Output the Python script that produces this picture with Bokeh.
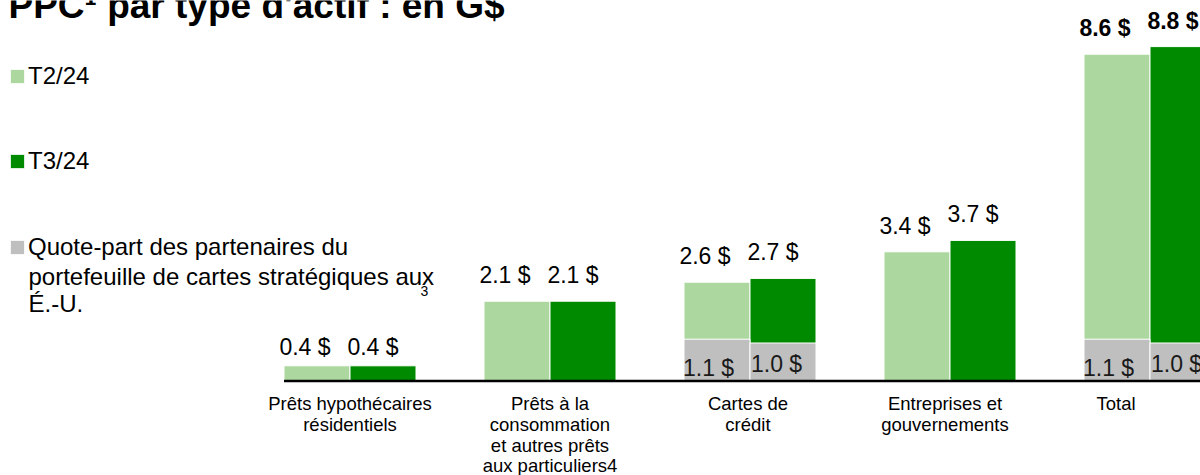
from bokeh.plotting import figure
from bokeh.models import (ColumnDataSource, Range1d, Legend, LegendItem, Label)
from bokeh.transform import dodge
from bokeh.core.properties import value
from bokeh.embed import file_html
from bokeh.resources import INLINE

# ---------------- data ----------------
categories = [
    "Prêts hypothécaires\nrésidentiels",
    "Prêts à la\nconsommation\net autres prêts\naux particuliers4",
    "Cartes de\ncrédit",
    "Entreprises et\ngouvernements",
    "Total",
]
t2_values = [0.4, 2.1, 2.6, 3.4, 8.6]
t3_values = [0.4, 2.1, 2.7, 3.7, 8.8]
partner_idx = [2, 4]
partner_t2 = [1.1, 1.1]
partner_t3 = [1.0, 1.0]
series_names = ["T2/24", "T3/24", "Quote-part des partenaires du"]
partner_name_rest = "portefeuille de cartes stratégiques aux\nÉ.-U."
footnote_mark = "3"
title_text = "PPC\u00b9 par type d'actif : en G$"

# ---------------- style ----------------
LIGHT = "#ACD89F"
DARK = "#008A00"
GREY = "#BFBFBF"
FONT = "Liberation Sans"
W, H = 1200, 475
PX_X = 200.0
PX_Y = 38.0
x0 = -349.5 / PX_X
y0 = -94.5 / PX_Y
label_dy = [-19, -26, -26, -26, -26]          # vertical offsets of value labels (px)
cat_label_dx = [0, 0, -2, -5, -34]            # horizontal offsets of category labels (px)

p = figure(width=W, height=H, output_backend="svg", toolbar_location=None,
           x_range=Range1d(x0, x0 + W / PX_X), y_range=Range1d(y0, y0 + H / PX_Y),
           x_axis_type=None, y_axis_type=None, min_border=0)
p.grid.visible = False
p.outline_line_color = None
p.background_fill_color = "white"

idx = list(range(len(categories)))
src = ColumnDataSource(dict(
    x=idx, t2=t2_values, t3=t3_values,
    t2_lbl=[f"{v} $" for v in t2_values],
    t3_lbl=[f"{v} $" for v in t3_values],
    style=["bold" if c == "Total" else "normal" for c in categories],
    cat=categories, dy=label_dy, dx=cat_label_dx,
))
psrc = ColumnDataSource(dict(
    x=partner_idx, g2=partner_t2, g3=partner_t3,
    g2_lbl=[f"{v} $" for v in partner_t2],
    g3_lbl=[f"{v} $" for v in partner_t3],
))

BW = 66 / PX_X
r2 = p.vbar(x=dodge("x", -BW / 2, range=p.x_range), top="t2", bottom=0, width=BW,
            source=src, fill_color=LIGHT, line_color="white", line_width=1)
r3 = p.vbar(x=dodge("x", BW / 2, range=p.x_range), top="t3", bottom=0, width=BW,
            source=src, fill_color=DARK, line_color="white", line_width=1)
rg2 = p.vbar(x=dodge("x", -BW / 2, range=p.x_range), top="g2", bottom=0, width=BW,
             source=psrc, fill_color=GREY, line_color="white", line_width=1)
p.vbar(x=dodge("x", BW / 2, range=p.x_range), top="g3", bottom=0, width=BW,
       source=psrc, fill_color=GREY, line_color="white", line_width=1)

# value labels
p.text(x=dodge("x", -BW / 2, range=p.x_range), y="t2", text="t2_lbl", source=src,
       x_offset=-12, y_offset="dy", text_align="center", text_baseline="alphabetic",
       text_font=value(FONT), text_font_size="23px", text_font_style="style",
       text_color="black")
p.text(x=dodge("x", BW / 2, range=p.x_range), y="t3", text="t3_lbl", source=src,
       x_offset=-10, y_offset="dy", text_align="center", text_baseline="alphabetic",
       text_font=value(FONT), text_font_size="23px", text_font_style="style",
       text_color="black")
# partner labels
p.text(x=dodge("x", -BW, range=p.x_range), y=0, text="g2_lbl", source=psrc,
       x_offset=-1, y_offset=-13, text_align="left", text_baseline="alphabetic",
       text_font=value(FONT), text_font_size="23px", text_color="#1a1a1a")
p.text(x="x", y=0, text="g3_lbl", source=psrc,
       x_offset=1, y_offset=-17, text_align="left", text_baseline="alphabetic",
       text_font=value(FONT), text_font_size="23px", text_color="#1a1a1a")

# baseline
p.segment(x0=-BW, y0=0, x1=x0 + W / PX_X + 1, y1=0, line_color="black", line_width=2.5)

# category labels
p.text(x="x", y=0, text="cat", source=src, x_offset="dx", y_offset=12,
       text_align="center", text_baseline="top", text_font=value(FONT),
       text_font_size="18.5px", text_color="black", text_line_height=0.99)

# legends
leg_locs = [(8, 385.5), (8, 300.5), (8, 214)]
for name, rend, loc in zip(series_names, [r2, r3, rg2], leg_locs):
    lg = Legend(items=[LegendItem(label=name, renderers=[rend])], location=loc,
                border_line_color=None, background_fill_alpha=0, padding=0,
                margin=0, spacing=0, glyph_width=18, glyph_height=18,
                label_standoff=2, label_height=13, label_text_font=FONT,
                label_text_font_size="24px", label_text_color="black")
    p.add_layout(lg)

p.add_layout(Label(x=28, y=213, x_units="screen", y_units="screen",
                   text=partner_name_rest, text_font=FONT, text_font_size="24px",
                   text_color="black", text_baseline="top", text_line_height=1.03))
p.add_layout(Label(x=420, y=180, x_units="screen", y_units="screen", text=footnote_mark,
                   text_font=FONT, text_font_size="14px", text_color="black"))

# title (cut off at the top, as in the reference)
p.add_layout(Label(x=8, y=H - 5, x_units="screen", y_units="screen", text=title_text,
                   text_font=FONT, text_font_size="37px", text_font_style="bold",
                   text_color="black", text_baseline="alphabetic"))

open("out.html", "w").write(file_html(p, INLINE))
